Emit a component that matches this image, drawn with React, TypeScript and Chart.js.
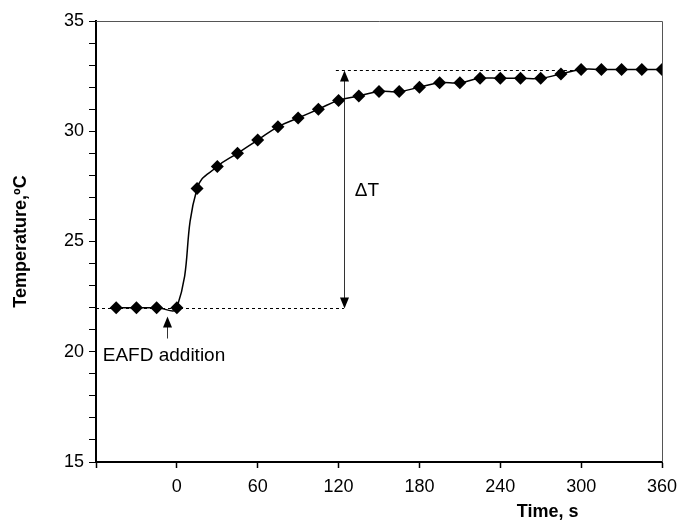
import { useEffect, useRef } from 'react';
import { Chart, registerables } from 'chart.js';

Chart.register(...registerables);

// ---- data ----
const timeS = [-45, -30, -15, 0, 15, 30, 45, 60, 75, 90, 105, 120, 135, 150, 165, 180, 195, 210, 225, 240, 255, 270, 285, 300, 315, 330, 345, 360];
const tempC = [22, 22, 22, 22, 27.4, 28.4, 29.0, 29.6, 30.2, 30.6, 31.0, 31.4, 31.6, 31.8, 31.8, 32.0, 32.2, 32.2, 32.4, 32.4, 32.4, 32.4, 32.6, 32.8, 32.8, 32.8, 32.8, 32.8];

const xTickValues = [0, 60, 120, 180, 240, 300, 360];
const yTickLabels = [15, 20, 25, 30, 35];

// annotation anchors (data units)
const deltaArrowX = 124;
const baseTemp = 22;
const finalTemp = 32.8;
const lowerDashFrom = -60;
const upperDashFrom = 118;
const upperDashTo = 300;
const additionX = -7;
const additionArrowTop = 21.6;
const additionArrowBottom = 20.6;
const additionTextX = -55;
const additionTextY = 19.8;
const deltaTextX = 132;
const deltaTextY = 27.3;

const FONT = '"Liberation Sans", Arial, sans-serif';

function arrowHead(ctx: CanvasRenderingContext2D, x: number, y: number, dir: number) {
  ctx.beginPath();
  ctx.moveTo(x, y);
  ctx.lineTo(x - 4.5, y - dir * 11);
  ctx.lineTo(x + 4.5, y - dir * 11);
  ctx.closePath();
  ctx.fill();
}

const annotationPlugin = {
  id: 'annot',
  beforeDatasetsDraw(chart: any) {
    const { ctx, chartArea } = chart;
    const xs = chart.scales.x;
    const ys = chart.scales.y;
    ctx.save();
    ctx.strokeStyle = '#555';
    ctx.lineWidth = 1;
    ctx.beginPath();
    ctx.moveTo(chartArea.left, chartArea.top + 0.5);
    ctx.lineTo(chartArea.right + 0.5, chartArea.top + 0.5);
    ctx.lineTo(chartArea.right + 0.5, chartArea.bottom);
    ctx.stroke();

    ctx.strokeStyle = '#000';
    ctx.setLineDash([3, 3]);
    ctx.beginPath();
    const yb = Math.round(ys.getPixelForValue(baseTemp)) + 0.5;
    ctx.moveTo(xs.getPixelForValue(lowerDashFrom), yb);
    ctx.lineTo(xs.getPixelForValue(deltaArrowX), yb);
    const yt = Math.round(ys.getPixelForValue(finalTemp)) + 0.5;
    ctx.moveTo(xs.getPixelForValue(upperDashFrom), yt);
    ctx.lineTo(xs.getPixelForValue(upperDashTo), yt);
    ctx.stroke();
    ctx.setLineDash([]);

    const ax = Math.round(xs.getPixelForValue(deltaArrowX)) + 0.5;
    ctx.strokeStyle = '#333';
    ctx.fillStyle = '#000';
    ctx.beginPath();
    ctx.moveTo(ax, yt + 8);
    ctx.lineTo(ax, yb - 8);
    ctx.stroke();
    arrowHead(ctx, ax, yt, -1);
    arrowHead(ctx, ax, yb, 1);

    const ex = Math.round(xs.getPixelForValue(additionX)) + 0.5;
    const eTop = ys.getPixelForValue(additionArrowTop);
    const eBot = ys.getPixelForValue(additionArrowBottom);
    ctx.beginPath();
    ctx.moveTo(ex, eTop + 8);
    ctx.lineTo(ex, eBot);
    ctx.stroke();
    arrowHead(ctx, ex, eTop, -1);

    ctx.fillStyle = '#000';
    ctx.font = `19px ${FONT}`;
    ctx.textAlign = 'left';
    ctx.textBaseline = 'middle';
    ctx.fillText('EAFD addition', xs.getPixelForValue(additionTextX), ys.getPixelForValue(additionTextY));
    ctx.font = `19px ${FONT}`;
    ctx.fillText('ΔT', xs.getPixelForValue(deltaTextX), ys.getPixelForValue(deltaTextY));

    ctx.font = `bold 18px ${FONT}`;
    ctx.textAlign = 'center';
    ctx.fillText('Time, s', chartArea.left + (chartArea.right - chartArea.left) * 0.798, chartArea.bottom + 50);
    ctx.restore();
  },
};

export default function App() {
  const ref = useRef<HTMLCanvasElement | null>(null);
  useEffect(() => {
    document.body.style.margin = '0';
    const canvas = ref.current;
    if (!canvas) return;
    const chart = new Chart(canvas, {
      type: 'line',
      data: {
        datasets: [
          {
            data: timeS.map((t, i) => ({ x: t, y: tempC[i] })),
            borderColor: '#000',
            borderWidth: 1.5,
            backgroundColor: '#000',
            pointStyle: 'rectRot',
            pointRadius: 6.5,
            pointBorderWidth: 0,
            pointBackgroundColor: '#000',
            tension: 0.45,
            fill: false,
          },
        ],
      },
      options: {
        responsive: false,
        animation: false,
        events: [],
        layout: { padding: { left: 0, top: 21, right: 18, bottom: 0 } },
        plugins: { legend: { display: false }, tooltip: { enabled: false } },
        scales: {
          x: {
            type: 'linear',
            min: -60,
            max: 360,
            afterFit: (s: any) => { s.height = 64; s.paddingRight = 0; s.paddingLeft = 0; },
            afterBuildTicks: (s: any) => {
              s.ticks = [-60, ...xTickValues].map((v) => ({ value: v }));
            },
            ticks: {
              autoSkip: false,
              maxRotation: 0,
              padding: 8,
              color: '#000',
              font: { family: FONT, size: 18 },
              callback: (v: any) => (xTickValues.includes(Number(v)) ? String(v) : ''),
            },
            grid: { display: true, drawOnChartArea: false, drawTicks: true, tickLength: 6, color: '#000', tickWidth: 1.5 },
            border: { display: true, color: '#000', width: 2 },
          },
          y: {
            type: 'linear',
            min: 15,
            max: 35,
            afterFit: (s: any) => { s.width = 96; s.paddingTop = 0; s.paddingBottom = 0; },
            ticks: {
              stepSize: 1,
              autoSkip: false,
              padding: 5,
              color: '#000',
              font: { family: FONT, size: 18 },
              callback: (v: any) => (yTickLabels.includes(Number(v)) ? String(v) : ''),
            },
            grid: { display: true, drawOnChartArea: false, drawTicks: true, tickLength: 7, color: '#000', tickWidth: 1 },
            border: { display: true, color: '#000', width: 2 },
            title: {
              display: true,
              text: 'Temperature,ºC',
              color: '#000',
              font: { family: FONT, size: 18, weight: 'bold' },
              padding: { top: 10, bottom: 0 },
            },
          },
        },
      },
      plugins: [annotationPlugin],
    } as any);
    return () => chart.destroy();
  }, []);
  return <canvas ref={ref} width={680} height={526} style={{ display: 'block', width: 680, height: 526 }} />;
}
